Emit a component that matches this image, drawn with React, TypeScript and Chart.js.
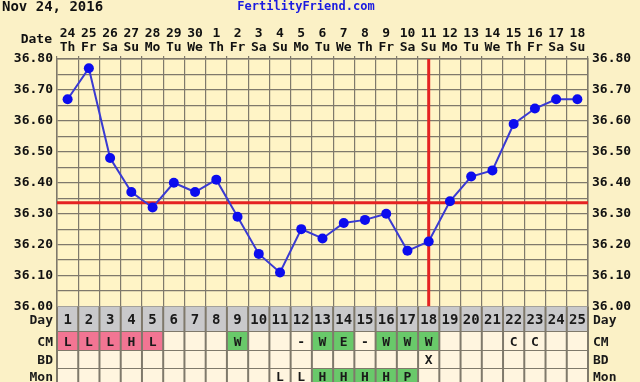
import React, { useEffect, useRef } from "react";
import { Chart, registerables } from "chart.js";

Chart.register(...registerables);

const dayNums = ["24", "25", "26", "27", "28", "29", "30", "1", "2", "3", "4", "5", "6", "7", "8", "9", "10", "11", "12", "13", "14", "15", "16", "17", "18"];
const weekdays = ["Th", "Fr", "Sa", "Su", "Mo", "Tu", "We", "Th", "Fr", "Sa", "Su", "Mo", "Tu", "We", "Th", "Fr", "Sa", "Su", "Mo", "Tu", "We", "Th", "Fr", "Sa", "Su"];
const cycleDays = ["1", "2", "3", "4", "5", "6", "7", "8", "9", "10", "11", "12", "13", "14", "15", "16", "17", "18", "19", "20", "21", "22", "23", "24", "25"];
const temps = [36.67, 36.77, 36.48, 36.37, 36.32, 36.40, 36.37, 36.41, 36.29, 36.17, 36.11, 36.25, 36.22, 36.27, 36.28, 36.30, 36.18, 36.21, 36.34, 36.42, 36.44, 36.59, 36.64, 36.67, 36.67];
const coverline = 36.335;
const ovulationIndex = 17;
const cmValues = ["L", "L", "L", "H", "L", "", "", "", "W", "", "", "-", "W", "E", "-", "W", "W", "W", "", "", "", "C", "C", "", ""];
const cmColors = ["p", "p", "p", "p", "p", "", "", "", "g", "", "", "", "g", "g", "", "g", "g", "g", "", "", "", "", "", "", ""];
const bdValues = ["", "", "", "", "", "", "", "", "", "", "", "", "", "", "", "", "", "X", "", "", "", "", "", "", ""];
const monValues = ["", "", "", "", "", "", "", "", "", "", "L", "L", "H", "H", "H", "H", "P", "", "", "", "", "", "", "", ""];
const monColors = ["", "", "", "", "", "", "", "", "", "", "", "", "g", "g", "g", "g", "g", "", "", "", "", "", "", "", ""];

const FONT = "'DejaVu Sans Mono', monospace";
const GRID = "#7f796b";

export default function App() {
  const ref = useRef<HTMLCanvasElement | null>(null);

  useEffect(() => {
    document.body.style.margin = "0";
    const canvas = ref.current!;
    const bgPlugin = {
      id: "bg",
      beforeDraw(chart: any) {
        const { ctx, chartArea } = chart;
        ctx.save();
        ctx.fillStyle = "#fbf1c6";
        ctx.fillRect(0, 0, chart.width, chart.height);
        ctx.fillStyle = "#fff4c6";
        ctx.fillRect(chartArea.left, chartArea.top, chartArea.right - chartArea.left, chartArea.bottom - chartArea.top);
        ctx.restore();
      },
    };
    const linesPlugin = {
      id: "redlines",
      beforeDatasetsDraw(chart: any) {
        const { ctx, chartArea, scales } = chart;
        ctx.save();
        ctx.strokeStyle = "#e52222";
        ctx.lineWidth = 3;
        const y = scales.y.getPixelForValue(coverline);
        ctx.beginPath();
        ctx.moveTo(chartArea.left, y);
        ctx.lineTo(chartArea.right, y);
        ctx.stroke();
        const x = scales.x.getPixelForValue(ovulationIndex);
        ctx.beginPath();
        ctx.moveTo(x, chartArea.top);
        ctx.lineTo(x, chartArea.bottom);
        ctx.stroke();
        ctx.restore();
      },
    };
    const textPlugin = {
      id: "texts",
      afterDraw(chart: any) {
        const { ctx, chartArea, scales } = chart;
        const xs = scales.x;
        const n = cycleDays.length;
        const w = (chartArea.right - chartArea.left) / n;
        ctx.save();
        // header
        ctx.font = `bold 14px ${FONT}`;
        ctx.textBaseline = "middle";
        ctx.fillStyle = "#111";
        ctx.textAlign = "left";
        ctx.fillText("Nov 24, 2016", 2, 7);
        ctx.fillStyle = "#1b1be0";
        ctx.textAlign = "center";
        ctx.font = `bold 12px ${FONT}`;
        ctx.fillText("FertilityFriend.com", 306, 7);
        ctx.fillStyle = "#111";
        ctx.textAlign = "right";
        ctx.font = `bold 13px ${FONT}`;
        ctx.fillText("Date", 52, 40);

        const rows = [
          { label: "Day", top: 306.5, bottom: 332, vals: cycleDays, cols: null as any, bg: "#c9c9cb" },
          { label: "CM", top: 332, bottom: 351, vals: cmValues, cols: cmColors, bg: "#fff5df" },
          { label: "BD", top: 351, bottom: 369, vals: bdValues, cols: null, bg: "#fff5df" },
          { label: "Mon", top: 369, bottom: 390, vals: monValues, cols: monColors, bg: "#fff5df" },
        ];
        for (const r of rows) {
          for (let i = 0; i < n; i++) {
            const cx = xs.getPixelForValue(i);
            const c = r.cols ? r.cols[i] : "";
            ctx.fillStyle = c === "p" ? "#f27593" : c === "g" ? "#69c96a" : r.bg;
            ctx.fillRect(cx - w / 2, r.top, w, r.bottom - r.top);
          }
          ctx.strokeStyle = GRID;
          ctx.lineWidth = 2;
          ctx.beginPath();
          ctx.moveTo(chartArea.left, r.bottom);
          ctx.lineTo(chartArea.right, r.bottom);
          ctx.stroke();
          for (let i = 0; i <= n; i++) {
            const x = chartArea.left + i * w;
            ctx.beginPath();
            ctx.moveTo(x, r.top);
            ctx.lineTo(x, r.bottom);
            ctx.stroke();
          }
          ctx.fillStyle = "#1a1a1a";
          ctx.font = `bold ${r.label === "Day" ? 14 : 13}px ${FONT}`;
          ctx.textAlign = "center";
          const ty = r.label === "Mon" ? 378 : (r.top + r.bottom) / 2 + 1;
          for (let i = 0; i < n; i++) {
            if (r.vals[i]) ctx.fillText(r.vals[i], xs.getPixelForValue(i), ty);
          }
          ctx.font = `bold 13px ${FONT}`;
          ctx.textAlign = "right";
          ctx.fillText(r.label, 53, ty);
          ctx.textAlign = "left";
          ctx.fillText(r.label, 593, ty);
        }
        ctx.restore();
      },
    };

    const yTick = (v: any) => {
      const num = Number(v);
      return Math.round(num * 100) % 10 === 0 ? num.toFixed(2) : "";
    };

    const chart = new Chart(canvas, {
      type: "line",
      data: {
        labels: dayNums.map((d, i) => [d, weekdays[i]]),
        datasets: [
          {
            data: temps,
            borderColor: "#3a3ad2",
            borderWidth: 2,
            pointRadius: 5,
            pointBackgroundColor: "#0c0cee",
            pointBorderWidth: 0,
            tension: 0,
            xAxisID: "x",
            yAxisID: "y",
          },
        ],
      },
      options: {
        animation: false,
        responsive: false,
        devicePixelRatio: 1,
        layout: { padding: { left: 0, right: 0, top: 0, bottom: 75.5 } },
        plugins: { legend: { display: false }, tooltip: { enabled: false } },
        scales: {
          x: {
            type: "category",
            position: "top",
            offset: true,
            grid: { offset: true, color: GRID, lineWidth: 1.2, tickLength: 3, drawTicks: true },
            border: { color: GRID, width: 1.5 },
            ticks: {
              color: "#111",
              font: { family: FONT, size: 13, weight: "bold", lineHeight: 1.08 },
              padding: 1,
              maxRotation: 0,
              autoSkip: false,
            },
            afterFit(s: any) {
              s.height = 59;
            },
          },
          y: {
            position: "left",
            min: 36,
            max: 36.8,
            grid: { color: GRID, lineWidth: 1.2, drawTicks: false },
            border: { color: GRID, width: 1.5 },
            ticks: {
              stepSize: 0.05,
              callback: yTick,
              color: "#111",
              font: { family: FONT, size: 13, weight: "bold" },
              padding: 4,
              autoSkip: false,
            },
            afterFit(s: any) {
              s.width = 57;
            },
          },
          y2: {
            position: "right",
            min: 36,
            max: 36.8,
            grid: { drawOnChartArea: false, drawTicks: false },
            border: { color: GRID, width: 1.5 },
            ticks: {
              stepSize: 0.05,
              callback: yTick,
              color: "#111",
              font: { family: FONT, size: 13, weight: "bold" },
              padding: 4,
              autoSkip: false,
            },
            afterFit(s: any) {
              s.width = 52;
            },
          },
        },
      },
      plugins: [bgPlugin, linesPlugin, textPlugin],
    });
    return () => chart.destroy();
  }, []);

  return (
    <div style={{ position: "fixed", left: 0, top: 0, width: 640, height: 382 }}>
      <canvas ref={ref} width={640} height={382} style={{ width: 640, height: 382, display: "block" }} />
    </div>
  );
}
